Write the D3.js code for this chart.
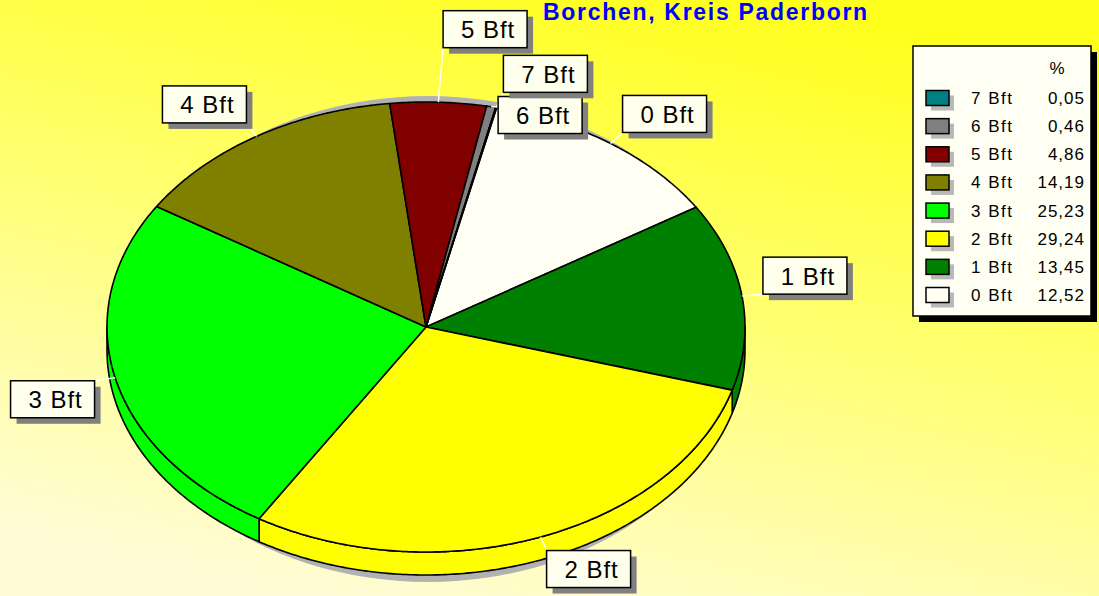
<!DOCTYPE html>
<html>
<head>
<meta charset="utf-8">
<script src="https://cdn.jsdelivr.net/npm/d3@7"></script>
<style>
  html, body { margin: 0; padding: 0; overflow: hidden; background: #fff; }
  text { font-family: "Liberation Sans", Arial, sans-serif; }
</style>
</head>
<body>
<div id="chart"></div>
<script>
// Data: wind force share (Beaufort), order = clockwise from the top
const categories = ["0 Bft", "1 Bft", "2 Bft", "3 Bft", "4 Bft", "5 Bft", "6 Bft", "7 Bft"];
const percents = [12.52, 13.45, 29.24, 25.23, 14.19, 4.86, 0.46, 0.05];
const title = "Borchen, Kreis Paderborn";
const legendHeader = "%";

// Styles / layout
const sliceColors = ["#fffff4", "#008000", "#ffff00", "#00ff00", "#808000", "#800000", "#808080", "#008080"];
const labelNudge = [[1, 0], [2, 0], [-1, 1], [-2, 0], [0, -2], [4, -41], [3, 40], [3, -2]];

const width = 1099, height = 596;
const cx = 426, cy = 327, rx = 319, ry = 225, depth = 23;
const startAngle = 12.8 * Math.PI / 180;

const svg = d3.select("#chart")
    .append("svg")
    .attr("width", width)
    .attr("height", height);

// Background gradient
const defs = svg.append("defs");
const grad = defs.append("linearGradient")
    .attr("id", "bg")
    .attr("x1", "0.7").attr("y1", "0")
    .attr("x2", "0.3").attr("y2", "1");
grad.append("stop").attr("offset", "0").attr("stop-color", "#ffff1c");
grad.append("stop").attr("offset", "0.55").attr("stop-color", "#ffff80");
grad.append("stop").attr("offset", "1").attr("stop-color", "#fffcd6");
svg.append("rect").attr("width", width).attr("height", height).attr("fill", "url(#bg)");

// Pie layout
const pie = d3.pie().sort(null).value(d => d)
    .startAngle(startAngle)
    .endAngle(startAngle + 2 * Math.PI);
const arcs = pie(percents);

function pt(a, k = 1, dy = 0) {
    return [cx + rx * k * Math.sin(a), cy - ry * k * Math.cos(a) + dy];
}
function arcPts(a0, a1, dy) {
    const n = Math.max(2, Math.ceil((a1 - a0) / 0.01));
    return d3.range(n + 1).map(i => pt(a0 + (a1 - a0) * i / n, 1, dy));
}
const line = d3.line();

// Shadow behind the pie
svg.append("ellipse")
    .attr("cx", cx + 2).attr("cy", cy + 12)
    .attr("rx", rx - 4).attr("ry", ry + 18)
    .attr("fill", "#b2b2b2");

// Side walls (front half only)
const front0 = Math.PI / 2, front1 = 3 * Math.PI / 2;
svg.append("g")
    .selectAll("path")
    .data(arcs.filter(d => Math.min(d.endAngle, front1) > Math.max(d.startAngle, front0)))
    .join("path")
    .attr("d", d => {
        const a0 = Math.max(d.startAngle, front0), a1 = Math.min(d.endAngle, front1);
        const top = arcPts(a0, a1, 0);
        const bot = arcPts(a0, a1, depth).reverse();
        return line(top.concat(bot)) + "Z";
    })
    .attr("fill", d => sliceColors[d.index])
    .attr("stroke", "#000")
    .attr("stroke-width", 1.6)
    .attr("stroke-linejoin", "round");

// Top faces
svg.append("g")
    .selectAll("path")
    .data(arcs)
    .join("path")
    .attr("d", d => line([[cx, cy]].concat(arcPts(d.startAngle, d.endAngle, 0))) + "Z")
    .attr("fill", d => sliceColors[d.index])
    .attr("stroke", "#000")
    .attr("stroke-width", 1.6)
    .attr("stroke-linejoin", "round");

// Slice labels
const boxW = 84, boxH = 37;
const labels = arcs.map(d => {
    const mid = (d.startAngle + d.endAngle) / 2;
    const anchor = pt(mid);
    const end = pt(mid, 1.06);
    const right = end[0] >= cx, upper = end[1] < cy;
    let x = right ? end[0] : end[0] - boxW;
    let y = upper ? end[1] - boxH : end[1];
    x += labelNudge[d.index][0];
    y += labelNudge[d.index][1];
    const nx = Math.max(x, Math.min(anchor[0], x + boxW));
    const ny = Math.max(y, Math.min(anchor[1], y + boxH));
    return { name: categories[d.index], anchor, near: [nx, ny], x, y };
});

svg.append("g")
    .selectAll("line")
    .data(labels)
    .join("line")
    .attr("x1", d => d.anchor[0]).attr("y1", d => d.anchor[1])
    .attr("x2", d => d.near[0]).attr("y2", d => d.near[1])
    .attr("stroke", "#fff")
    .attr("stroke-width", 1.5);

const lab = svg.append("g")
    .selectAll("g")
    .data(labels)
    .join("g")
    .attr("transform", d => `translate(${d.x},${d.y})`);
lab.append("rect")
    .attr("x", 6).attr("y", 6)
    .attr("width", boxW).attr("height", boxH)
    .attr("fill", "#808080");
lab.append("rect")
    .attr("width", boxW).attr("height", boxH)
    .attr("fill", "#ffffee")
    .attr("stroke", "#000")
    .attr("stroke-width", 1.5);
lab.append("text")
    .attr("x", boxW / 2 + 3).attr("y", boxH / 2 + 9)
    .attr("text-anchor", "middle")
    .style("font-size", "24px")
    .style("letter-spacing", "1px")
    .attr("fill", "#000")
    .text(d => d.name);

// Title
svg.append("text")
    .attr("x", 543).attr("y", 20)
    .style("font-size", "23px")
    .style("font-weight", "bold")
    .style("letter-spacing", "1.7px")
    .attr("fill", "#0000ff")
    .text(title);

// Legend
const lx = 913, ly = 46, lw = 178, lh = 270;
const legend = svg.append("g");
legend.append("rect")
    .attr("x", lx + 6).attr("y", ly + 6)
    .attr("width", lw).attr("height", lh)
    .attr("fill", "#000");
legend.append("rect")
    .attr("x", lx).attr("y", ly)
    .attr("width", lw).attr("height", lh)
    .attr("fill", "#fffff4")
    .attr("stroke", "#000")
    .attr("stroke-width", 1.5);
legend.append("text")
    .attr("x", 1057).attr("y", 74)
    .attr("text-anchor", "middle")
    .style("font-size", "17px")
    .text(legendHeader);

const fmt = d3.format(".2f");
const order = d3.range(categories.length).reverse();
const rowY = d3.scalePoint().domain(order).range([98, 295]);
const rows = legend.selectAll("g.row")
    .data(order)
    .join("g")
    .attr("class", "row")
    .attr("transform", i => `translate(0,${rowY(i)})`);
rows.append("rect")
    .attr("x", 931).attr("y", -2.5)
    .attr("width", 23).attr("height", 15)
    .attr("fill", "#b8b8b8");
rows.append("rect")
    .attr("x", 926).attr("y", -7.5)
    .attr("width", 23).attr("height", 15)
    .attr("fill", i => sliceColors[i])
    .attr("stroke", "#000")
    .attr("stroke-width", 1.5);
rows.append("text")
    .attr("x", 971).attr("y", 6)
    .style("font-size", "17px")
    .style("letter-spacing", "1.5px")
    .text(i => categories[i]);
rows.append("text")
    .attr("x", 1085).attr("y", 6)
    .attr("text-anchor", "end")
    .style("font-size", "17px")
    .style("letter-spacing", "1px")
    .text(i => fmt(percents[i]).replace(".", ","));
</script>
</body>
</html>
